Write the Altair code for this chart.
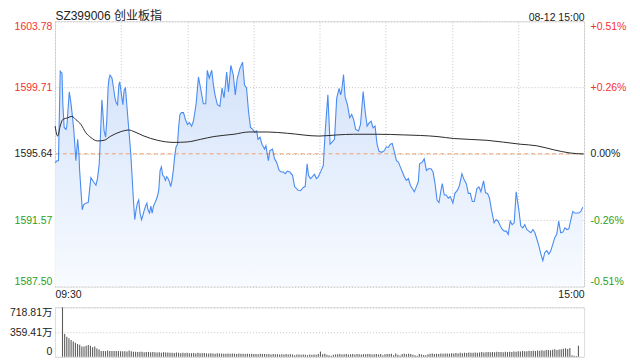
import altair as alt
import pandas as pd

TITLE = "SZ399006 创业板指"
STAMP = "08-12 15:00"
PREV_CLOSE = 1595.64
PRICE_TICKS = [1587.50, 1591.57, 1595.64, 1599.71, 1603.78]
VOL_TICKS = [0, 359.41, 718.81]
GRID_MINUTES = [0, 30, 60, 90, 120, 150, 180, 210, 240]
OPEN_LABEL = "09:30"
CLOSE_LABEL = "15:00"

MINUTES = [
    0.1, 0.9, 1.6, 2.4, 3.2, 3.6, 4.2, 5.0, 5.4, 6.5,
    7.2, 8.0, 8.6, 9.5, 10.3, 10.9, 11.2, 11.8, 12.4, 13.0,
    13.9, 15.1, 16.3, 17.5, 18.6, 19.3, 20.1, 20.8, 21.3, 21.7,
    22.3, 23.0, 23.5, 24.1, 24.5, 25.0, 25.9, 26.6, 27.2, 27.8,
    28.4, 29.0, 29.4, 30.2, 30.8, 31.4, 32.0, 32.6, 33.2, 33.8,
    34.4, 35.0, 35.6, 36.2, 36.8, 37.4, 38.0, 38.6, 39.3, 39.8,
    40.4, 41.1, 41.7, 42.2, 42.9, 43.5, 44.1, 44.7, 45.3, 45.9,
    46.5, 47.1, 47.7, 48.3, 48.9, 49.5, 50.1, 50.7, 51.3, 51.9,
    52.5, 53.1, 53.7, 54.3, 54.9, 55.6, 56.1, 56.7, 57.4, 58.3,
    59.2, 60.1, 61.0, 62.0, 62.8, 64.0, 65.1, 65.8, 66.6, 67.3,
    68.4, 69.1, 70.0, 71.1, 71.9, 72.6, 73.7, 74.8, 75.8, 76.7,
    77.9, 78.7, 79.8, 80.9, 81.8, 82.7, 83.9, 85.1, 86.0, 86.9,
    87.8, 88.7, 89.7, 90.6, 91.5, 92.1, 93.0, 93.9, 95.1, 95.7,
    96.8, 97.5, 98.7, 99.6, 100.5, 101.7, 102.7, 103.6, 104.5, 105.4,
    106.5, 107.8, 108.7, 110.2, 111.4, 112.6, 113.5, 114.4, 115.0, 115.9,
    116.8, 117.7, 118.6, 119.5, 120.8, 121.7, 122.6, 123.8, 124.8, 125.6,
    126.8, 127.8, 128.9, 129.6, 130.1, 130.9, 131.6, 132.7, 133.7, 134.6,
    135.5, 136.4, 137.7, 138.6, 139.8, 140.7, 141.6, 142.5, 143.4, 144.3,
    145.2, 146.1, 147.0, 148.2, 149.4, 150.3, 151.2, 152.1, 153.0, 153.9,
    154.9, 155.8, 156.7, 157.6, 158.5, 159.4, 160.3, 161.2, 162.1, 163.0,
    163.9, 164.8, 165.4, 166.6, 167.5, 168.5, 169.4, 170.6, 171.5, 172.4,
    173.3, 174.2, 175.1, 175.7, 176.6, 177.5, 178.4, 179.3, 180.5, 181.4,
    182.6, 183.5, 184.6, 185.7, 186.6, 187.5, 188.4, 189.3, 190.2, 191.4,
    192.3, 193.2, 194.4, 195.3, 196.2, 197.1, 198.0, 199.2, 200.1, 201.0,
    202.0, 202.9, 203.8, 204.7, 205.6, 206.5, 207.4, 208.3, 209.2, 210.4,
    211.3, 212.2, 213.1, 214.0, 214.9, 215.9, 216.8, 217.7, 218.6, 219.5,
    220.4, 221.3, 222.2, 223.1, 224.0, 224.9, 225.8, 226.7, 227.6, 228.5,
    229.4, 230.4, 231.3, 232.2, 233.1, 234.0, 234.9, 235.8, 236.7, 237.6,
    238.5, 239.4,
]

PRICES = [
    1595.08, 1595.21, 1595.21, 1600.71, 1600.59, 1598.65, 1597.26, 1597.14, 1597.32, 1599.44,
    1598.83, 1597.87, 1597.02, 1595.21, 1596.53, 1595.63, 1594.62, 1593.41, 1592.20, 1592.50,
    1592.61, 1592.65, 1594.18, 1593.92, 1593.71, 1594.12, 1595.02, 1597.26, 1598.95, 1598.25,
    1597.04, 1596.66, 1597.64, 1599.68, 1600.22, 1600.47, 1600.28, 1599.68, 1599.07, 1598.77,
    1598.65, 1599.86, 1600.06, 1599.26, 1598.65, 1599.56, 1599.68, 1598.65, 1597.64, 1596.66,
    1595.63, 1594.24, 1592.80, 1591.60, 1592.20, 1592.61, 1592.80, 1592.00, 1591.60, 1591.82,
    1592.12, 1592.42, 1592.61, 1592.20, 1592.00, 1592.42, 1592.00, 1592.42, 1592.61, 1592.80,
    1593.03, 1593.41, 1594.62, 1594.84, 1594.32, 1594.24, 1594.01, 1594.24, 1594.12, 1593.94,
    1593.63, 1594.01, 1594.62, 1595.45, 1596.05, 1596.23, 1597.26, 1598.05, 1598.17, 1598.17,
    1597.74, 1597.44, 1597.56, 1597.34, 1597.64, 1598.65, 1600.36, 1599.86, 1599.26, 1598.71,
    1598.71, 1600.77, 1600.28, 1600.77, 1599.86, 1599.26, 1598.65, 1598.55, 1599.68, 1599.07,
    1600.66, 1599.46, 1601.07, 1600.47, 1599.26, 1600.28, 1600.89, 1601.27, 1599.86, 1599.68,
    1598.25, 1597.26, 1597.14, 1596.96, 1597.04, 1596.53, 1596.66, 1596.23, 1595.93, 1596.13,
    1595.22, 1595.83, 1595.93, 1595.33, 1595.13, 1594.62, 1594.52, 1594.52, 1594.42, 1594.58,
    1594.52, 1594.32, 1593.63, 1593.41, 1593.37, 1593.57, 1593.63, 1595.02, 1594.32, 1594.12,
    1594.24, 1594.38, 1594.12, 1594.24, 1594.62, 1594.92, 1597.04, 1599.26, 1596.23, 1596.34,
    1596.53, 1599.06, 1599.66, 1599.26, 1599.56, 1600.51, 1599.15, 1598.65, 1597.85, 1598.05,
    1597.74, 1597.14, 1597.04, 1597.44, 1599.46, 1598.25, 1597.34, 1597.54, 1597.64, 1597.24,
    1597.34, 1596.23, 1595.79, 1595.73, 1595.83, 1596.07, 1596.03, 1596.23, 1596.28, 1595.79,
    1595.22, 1595.13, 1594.82, 1594.52, 1594.22, 1594.01, 1594.12, 1593.71, 1593.51, 1593.31,
    1593.61, 1593.92, 1595.02, 1595.13, 1595.33, 1594.62, 1594.72, 1594.72, 1594.52, 1593.81,
    1592.80, 1592.65, 1593.41, 1593.81, 1593.11, 1593.11, 1592.91, 1593.01, 1592.61, 1593.21,
    1593.41, 1593.71, 1594.42, 1594.01, 1593.81, 1593.21, 1593.21, 1592.71, 1592.71, 1593.51,
    1593.61, 1593.31, 1593.98, 1593.25, 1593.21, 1592.91, 1592.20, 1591.40, 1591.60, 1591.50,
    1591.20, 1590.99, 1590.89, 1590.89, 1590.69, 1591.50, 1591.29, 1591.40, 1593.31, 1592.20,
    1591.20, 1591.09, 1591.29, 1590.99, 1590.89, 1590.79, 1590.99, 1590.79, 1590.39, 1589.99,
    1589.48, 1589.08, 1589.58, 1589.69, 1589.48, 1589.69, 1590.08, 1590.49, 1590.69, 1591.50,
    1590.79, 1590.83, 1591.09, 1590.99, 1591.03, 1591.60, 1592.10, 1592.00, 1592.00, 1592.00,
    1592.10, 1592.36,
]

AVG_MINUTES = [0.1, 1.2, 2.4, 3.5, 5.8, 7.7, 9.5, 11.8, 14.0, 16.3,
               19.3, 22.3, 25.4, 29.9, 33.6, 35.9, 40.4, 46.5, 54.0, 60.1,
               66.1, 72.1, 81.2, 88.0, 96.3, 105.4, 119.7, 128.0, 135.5, 146.1,
               158.2, 173.3, 180.8, 195.9, 211.0, 218.6, 226.1, 233.6, 239.7]
AVG_PRICES = [1597.34, 1596.73, 1597.34, 1597.74, 1597.85, 1597.94, 1597.74, 1597.44, 1596.94, 1596.64,
              1596.43, 1596.47, 1596.73, 1597.00, 1597.10, 1597.00, 1596.73, 1596.47, 1596.34, 1596.37,
              1596.53, 1596.70, 1596.84, 1596.98, 1596.98, 1596.90, 1596.73, 1596.80, 1596.84, 1596.84,
              1596.80, 1596.70, 1596.58, 1596.47, 1596.23, 1596.13, 1595.89, 1595.69, 1595.63]

# volume per minute, in 万
VOLUME = [
    718.81, 330, 292, 267, 242, 223, 204, 184, 175, 150,
    150, 160, 170, 160, 136, 150, 121, 106, 82, 82,
    82, 92, 82, 82, 82, 82, 82, 80, 78, 80,
    76, 90, 78, 74, 72, 70, 74, 72, 66, 68,
    70, 64, 68, 66, 62, 64, 58, 66, 62, 60,
    57, 59, 55, 62, 57, 52, 59, 55, 57, 50,
    52, 55, 48, 57, 52, 50, 53, 48, 46, 52,
    48, 43, 50, 46, 48, 45, 43, 48, 42, 46,
    44, 40, 46, 43, 42, 38, 44, 40, 42, 38,
    40, 36, 43, 38, 40, 36, 38, 34, 40, 36,
    38, 33, 36, 34, 38, 32, 36, 33, 22, 34,
    32, 28, 34, 30, 20, 33, 28, 32, 30, 38,
    75,
    36, 43, 28, 20, 15, 28, 34, 36, 38, 34,
    36, 38, 34, 36, 38, 33, 40, 36, 34, 38,
    36, 40, 38, 34, 36, 38, 33, 38, 22, 36,
    38, 40, 43, 20, 48, 28, 18, 40, 43, 36,
    43, 38, 28, 20, 15, 38, 33, 26, 20, 36,
    43, 46, 40, 43, 38, 48, 43, 46, 48, 44,
    50, 46, 53, 48, 56, 50, 58, 53, 60, 56,
    58, 63, 56, 60, 68, 63, 66, 70, 64, 68,
    66, 73, 68, 70, 66, 72, 68, 74, 70, 76,
    73, 78, 76, 83, 78, 80, 86, 82, 88, 84,
    90, 86, 93, 88, 96, 98, 93, 103, 108, 98,
    106, 110, 116, 123, 113, 128, 20, 15, 10, 160,
]

FONT = "Liberation Sans, Arial, Noto Sans CJK SC, sans-serif"
RED = "#f53030"
GREEN = "#1f9f1f"
INK = "#222222"
GRID = "#c4c4c4"

n = min(len(MINUTES), len(PRICES))
price_df = pd.DataFrame({"minute": MINUTES[:n], "price": PRICES[:n]})
avg_df = pd.DataFrame({"minute": AVG_MINUTES, "price": AVG_PRICES})
vol_df = pd.DataFrame({"minute": list(range(len(VOLUME))), "volume": VOLUME})

x_scale = alt.Scale(domain=[0, 240], nice=False, zero=False)
vol_x_scale = alt.Scale(domain=[-1.2, 240.3], nice=False, zero=False)
y_scale = alt.Scale(domain=[PRICE_TICKS[0], PRICE_TICKS[-1]], nice=False, zero=False)

label_color = {
    "condition": [
        {"test": f"datum.value > {PREV_CLOSE + 0.01}", "value": RED},
        {"test": f"datum.value < {PREV_CLOSE - 0.01}", "value": GREEN},
    ],
    "value": INK,
}

common = dict(ticks=False, domain=False, title=None, labelFont=FONT, labelFontSize=10.5)

left_axis = alt.Axis(orient="left", values=PRICE_TICKS, format=".2f", labelFlush=True,
                     labelPadding=3, grid=True, gridColor=GRID, gridDash=[1, 2],
                     labelColor=label_color, labelOverlap=False, **common)
pct = f"((datum.value - {PREV_CLOSE}) / {PREV_CLOSE} * 100)"
right_axis = alt.Axis(orient="right", values=PRICE_TICKS, labelFlush=True, labelPadding=6,
                      grid=False, labelColor=label_color, labelOverlap=False,
                      labelExpr=f"({pct} > 0.001 ? '+' : ({pct} < -0.001 ? '-' : '')) + format(abs({pct}), '.2f') + '%'",
                      **common)
bottom_axis = alt.Axis(orient="bottom", values=[0, 240], labelFlush=True, labelPadding=3,
                       grid=False, labelColor=INK, labelOverlap=False,
                       labelExpr=f"datum.value == 0 ? '{OPEN_LABEL}' : '{CLOSE_LABEL}'", **common)
top_axis = alt.Axis(orient="top", values=GRID_MINUTES, labelFlush=True, labelPadding=-1,
                    grid=True, gridColor=GRID, gridDash=[1, 2], labelColor=INK,
                    labelOverlap=False, ticks=False, domain=False, title=None, labelFont=FONT,
                    labelFontSize={"condition": {"test": "datum.value == 0", "value": 12}, "value": 10.5},
                    labelExpr=f"datum.value == 0 ? '{TITLE}' : (datum.value == 240 ? '{STAMP}' : '')")

gradient = alt.LinearGradient(
    gradient="linear",
    stops=[alt.GradientStop(color="#d3e2fa", offset=0),
           alt.GradientStop(color="#f8fbff", offset=1)],
    x1=0, x2=0, y1=0, y2=1,
)

base = alt.Chart(price_df)
area = base.mark_area(color=gradient, opacity=1).encode(
    x=alt.X("minute:Q", scale=x_scale, axis=bottom_axis),
    y=alt.Y("price:Q", scale=y_scale, axis=left_axis),
    y2=alt.datum(PRICE_TICKS[0]),
)
line = base.mark_line(color="#4b8cf0", strokeWidth=1.1).encode(
    x=alt.X("minute:Q", scale=x_scale, axis=None),
    y=alt.Y("price:Q", scale=y_scale, axis=None),
)
avg = alt.Chart(avg_df).mark_line(color="#2a2a2a", strokeWidth=1, interpolate="monotone").encode(
    x=alt.X("minute:Q", scale=x_scale, axis=top_axis),
    y=alt.Y("price:Q", scale=y_scale, axis=None),
)
ref = alt.Chart(pd.DataFrame({"price": [PREV_CLOSE]})).mark_rule(
    color="#f0a070", strokeDash=[4, 3], strokeWidth=1
).encode(
    y=alt.Y("price:Q", scale=y_scale, axis=right_axis),
)

price_panel = alt.layer(area, ref, line, avg).resolve_scale(
    x="shared", y="shared"
).resolve_axis(x="independent", y="independent").properties(width=530, height=265.5)

vol_panel = alt.Chart(vol_df).mark_bar(size=1.1, color="#5c5c5c").encode(
    x=alt.X("minute:Q", scale=vol_x_scale, axis=None),
    y=alt.Y("volume:Q", scale=alt.Scale(domain=[0, VOL_TICKS[-1]], nice=False),
            axis=alt.Axis(orient="left", values=VOL_TICKS, labelFlush=True, labelPadding=3,
                          grid=True, gridColor=GRID, gridDash=[1, 2], labelColor=INK,
                          labelOverlap=False,
                          labelExpr="datum.value == 0 ? '0' : format(datum.value, '.2f') + '万'",
                          **common)),
).properties(width=530, height=49.5)

chart = alt.vconcat(price_panel, vol_panel, spacing=20.5, bounds="flush").properties(
    padding={"left": 0, "top": 0, "right": 5, "bottom": 0}
).configure_view(stroke="#c8c8c8", strokeWidth=1).configure(background="white")

chart.save("out.html", embed_options={"renderer": "svg", "actions": False})
